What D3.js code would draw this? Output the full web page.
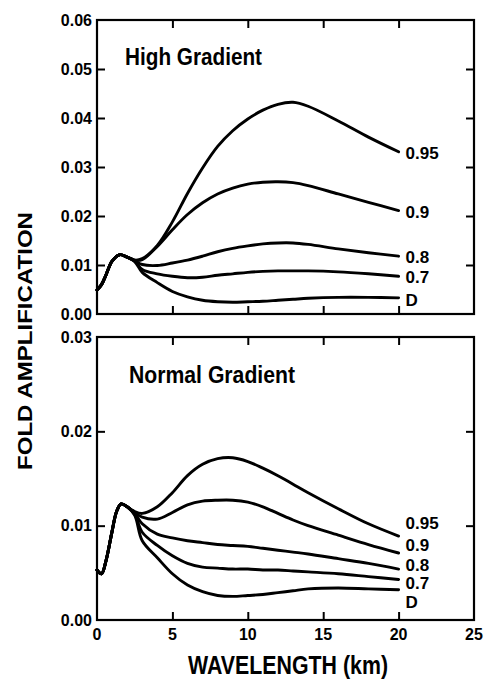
<!DOCTYPE html>
<html><head><meta charset="utf-8">
<script src="https://cdn.jsdelivr.net/npm/d3@7"></script>
<style>html,body{margin:0;padding:0;background:#fff;}svg{display:block;}</style>
</head><body>
<svg id="chart" width="484" height="679"></svg>
<script>
// ---------- data ----------
const seriesNames = ["0.95", "0.9", "0.8", "0.7", "D"];
const xTicks = [0, 5, 10, 15, 20, 25];

// High Gradient panel
const highX = [0, 0.3, 0.6, 1, 1.5, 2, 2.5, 3, 4, 5, 6, 7, 8, 9, 10, 11, 12, 13, 14, 16, 18, 20];
const high095 = [.0049, .0060, .0080, .0108, .0121, .0116, .0110, .0113, .0140, .0188, .0246, .0298, .0342, .0374, .0398, .0416, .0428, .0432, .0424, .0394, .0361, .0331];
const high09  = [.0049, .0060, .0080, .0108, .0121, .0116, .0110, .0111, .0138, .0172, .0203, .0227, .0245, .0257, .0265, .0269, .0270, .0268, .0262, .0245, .0228, .0211];
const high08  = [.0049, .0060, .0080, .0108, .0121, .0116, .0109, .0101, .0099, .0104, .0110, .0118, .0127, .0134, .0139, .0143, .0145, .0145, .0142, .0133, .0125, .0118];
const high07  = [.0049, .0060, .0080, .0108, .0121, .0116, .0108, .0091, .0082, .0077, .0074, .0075, .0079, .0082, .0085, .0087, .0088, .0088, .0088, .0086, .0082, .0077];
const highD   = [.0049, .0060, .0080, .0108, .0121, .0116, .0107, .0085, .0064, .0046, .0035, .0028, .0025, .0024, .0025, .0026, .0028, .0030, .0032, .0034, .0034, .0033];
const highYTicks = [0, 0.01, 0.02, 0.03, 0.04, 0.05, 0.06];
const highLabelAt = [.0329, .0208, .0116, .0076, .0029];

// Normal Gradient panel
const normX = [0, 0.3, 0.6, 1, 1.3, 1.6, 2, 2.5, 3, 4, 5, 6, 7, 8, 9, 10, 11, 12, 13, 14, 16, 18, 20];
const norm095 = [.0053, .0049, .0063, .0094, .0115, .0123, .0120, .0115, .0113, .0120, .0135, .0153, .0165, .0171, .0172, .0168, .0161, .0153, .0144, .0135, .0118, .0102, .0089];
const norm09  = [.0053, .0049, .0063, .0094, .0115, .0123, .0120, .0114, .0109, .0107, .0114, .0122, .0126, .0127, .0127, .0125, .0120, .0113, .0106, .0100, .0090, .0080, .0071];
const norm08  = [.0053, .0049, .0063, .0094, .0115, .0123, .0120, .0113, .0102, .0091, .0087, .0084, .0082, .0080, .0079, .0078, .0076, .0074, .0072, .0070, .0065, .0060, .0054];
const norm07  = [.0053, .0049, .0063, .0094, .0115, .0123, .0120, .0112, .0093, .0079, .0068, .0060, .0056, .0055, .0054, .0054, .0053, .0053, .0052, .0051, .0049, .0046, .0043];
const normD   = [.0053, .0049, .0063, .0094, .0115, .0123, .0120, .0111, .0084, .0066, .0049, .0037, .0030, .0026, .0025, .0026, .0027, .0029, .0031, .0033, .0034, .0033, .0032];
const normYTicks = [0, 0.01, 0.02, 0.03];
const normLabelAt = [.0103, .0080, .0058, .0039, .0019];

// ---------- drawing ----------
const svg = d3.select("#chart");
const left = 97, right = 474;
const x = d3.scaleLinear().domain([0, 25]).range([left, right]);
const numFont = "'Liberation Sans', Arial, sans-serif";

function fitText(sel, len) {
  return sel.attr("textLength", len).attr("lengthAdjust", "spacingAndGlyphs");
}

function panel(cfg) {
  const y = d3.scaleLinear().domain(cfg.yDomain).range([cfg.bottom, cfg.top]);
  const g = svg.append("g");
  const tickLen = 8;
  const innerX = xTicks.filter(v => v > 0 && v < 25);
  const innerY = cfg.yTicks.filter(v => v > cfg.yDomain[0] && v < cfg.yDomain[1]);

  g.append("g").attr("transform", `translate(0,${cfg.bottom})`)
    .call(d3.axisBottom(x).tickValues(innerX).tickSize(-tickLen).tickFormat("").tickSizeOuter(0));
  g.append("g").attr("transform", `translate(0,${cfg.top})`)
    .call(d3.axisTop(x).tickValues(innerX).tickSize(-tickLen).tickFormat("").tickSizeOuter(0));
  g.append("g").attr("transform", `translate(${left},0)`)
    .call(d3.axisLeft(y).tickValues(innerY).tickSize(-tickLen).tickFormat("").tickSizeOuter(0));
  g.append("g").attr("transform", `translate(${right},0)`)
    .call(d3.axisRight(y).tickValues(innerY).tickSize(-tickLen).tickFormat("").tickSizeOuter(0));
  g.selectAll(".domain").remove();
  g.selectAll(".tick line").attr("stroke", "#000").attr("stroke-width", 2);

  g.append("rect").attr("x", left).attr("y", cfg.top)
    .attr("width", right - left).attr("height", cfg.bottom - cfg.top)
    .attr("fill", "none").attr("stroke", "#000").attr("stroke-width", 2.2);

  g.selectAll("text.ylab").data(cfg.yTicks).enter().append("text")
    .attr("x", left - 5).attr("y", d => y(d))
    .attr("dy", "0.36em").attr("text-anchor", "end")
    .attr("font-family", numFont).attr("font-weight", "bold").attr("font-size", 16)
    .text(d => d3.format(".2f")(d));

  const line = d3.line().x(d => x(d[0])).y(d => y(d[1])).curve(d3.curveCatmullRom.alpha(0.5));
  cfg.series.forEach((vals, i) => {
    const pts = cfg.xs.map((xv, j) => [xv, vals[j]]);
    g.append("path").attr("d", line(pts)).attr("fill", "none")
      .attr("stroke", "#000").attr("stroke-width", 2.9)
      .attr("stroke-linejoin", "round").attr("stroke-linecap", "round");
    g.append("text").attr("x", x(20) + 7).attr("y", y(cfg.labelAt[i]))
      .attr("dy", "0.36em")
      .attr("font-family", numFont).attr("font-weight", "bold").attr("font-size", 17)
      .text(seriesNames[i]);
  });

  fitText(g.append("text").attr("x", cfg.titleX).attr("y", cfg.titleY)
    .attr("font-family", numFont).attr("font-weight", "bold").attr("font-size", 24)
    .text(cfg.title), cfg.titleLen);
  return y;
}

panel({
  top: 20, bottom: 314, yDomain: [0, 0.06], yTicks: highYTicks,
  xs: highX, series: [high095, high09, high08, high07, highD], labelAt: highLabelAt,
  title: "High Gradient", titleX: 125, titleY: 65, titleLen: 137
});
panel({
  top: 337, bottom: 620, yDomain: [0, 0.03], yTicks: normYTicks,
  xs: normX, series: [norm095, norm09, norm08, norm07, normD], labelAt: normLabelAt,
  title: "Normal Gradient", titleX: 129, titleY: 383, titleLen: 166
});

svg.selectAll("text.xlab").data(xTicks).enter().append("text")
  .attr("x", d => x(d)).attr("y", 640).attr("text-anchor", "middle")
  .attr("font-family", numFont).attr("font-weight", "bold").attr("font-size", 16)
  .text(d => d);

fitText(svg.append("text").attr("x", 188).attr("y", 674)
  .attr("font-family", numFont).attr("font-weight", "bold").attr("font-size", 25)
  .text("WAVELENGTH (km)"), 200);
fitText(svg.append("text").attr("transform", "translate(32,470) rotate(-90)")
  .attr("font-family", numFont).attr("font-weight", "bold").attr("font-size", 20)
  .text("FOLD AMPLIFICATION"), 258);
</script>
</body></html>
